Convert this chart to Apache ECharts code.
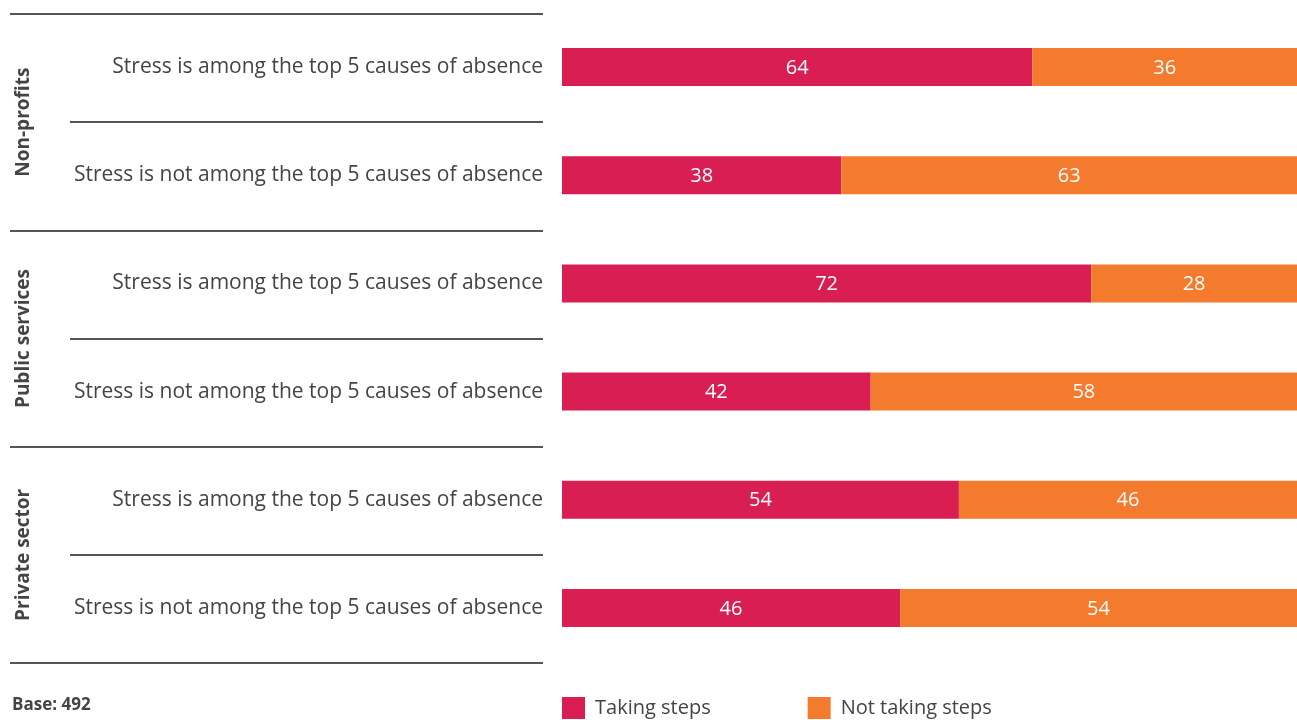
<!DOCTYPE html>
<html>
<head>
<meta charset="utf-8">
<script src="https://cdn.jsdelivr.net/npm/echarts@6/dist/echarts.min.js"></script>
<style>
  html, body { margin: 0; padding: 0; background: #fff; }
  #chart { width: 1297px; height: 720px; }
</style>
</head>
<body>
<div id="chart"></div>
<script>
// Sector groups (each holds two statement rows)
const groups = ['Non-profits', 'Public services', 'Private sector'];
// Statement rows, top to bottom
const statements = [
  'Stress is among the top 5 causes of absence',
  'Stress is not among the top 5 causes of absence',
  'Stress is among the top 5 causes of absence',
  'Stress is not among the top 5 causes of absence',
  'Stress is among the top 5 causes of absence',
  'Stress is not among the top 5 causes of absence'
];
// Row keys so identical statement texts stay separate categories
const rowKeys = statements.map((s, i) => i + '|' + s);
// Percentages per row
const takingSteps = [64, 38, 72, 42, 54, 46];
const notTakingSteps = [36, 63, 28, 58, 46, 54];
const seriesNames = ['Taking steps', 'Not taking steps'];
const baseNote = 'Base: 492';

const PINK = '#D91E53';
const ORANGE = '#F47A2D';
const TEXT = '#444444';
const RULE = '#555555';
const FONT = '"Open Sans", "Noto Sans", sans-serif';

const chart = echarts.init(document.getElementById('chart'), null, { renderer: 'canvas' });

const TOP = 13, HEIGHT = 649;

const valueLabel = {
  show: true,
  position: 'inside',
  color: '#ffffff',
  fontFamily: FONT,
  fontSize: 20,
  offset: [0, 1]
};

chart.setOption({
  backgroundColor: '#ffffff',
  animation: false,
  title: {
    text: baseNote,
    left: 12,
    top: 694,
    padding: 0,
    textStyle: { fontFamily: FONT, fontSize: 17, fontWeight: 'bold', color: TEXT, lineHeight: 22 }
  },
  legend: {
    data: seriesNames,
    left: 562,
    top: 697,
    padding: 0,
    itemWidth: 23,
    itemHeight: 22,
    itemGap: 97,
    icon: 'rect',
    textStyle: { fontFamily: FONT, fontSize: 20, color: TEXT, padding: [3, 0, 0, 5] }
  },
  grid: [
    // bars
    { left: 562, width: 735, top: TOP, height: HEIGHT },
    // group rules and sector names
    { left: 10, width: 533, top: TOP + 1, height: HEIGHT },
    // rules between statement rows
    { left: 70, width: 473, top: TOP + 1, height: HEIGHT }
  ],
  xAxis: [
    { type: 'value', gridIndex: 0, min: 0, max: 100, show: false },
    { type: 'value', gridIndex: 1, show: false },
    { type: 'value', gridIndex: 2, show: false }
  ],
  yAxis: [
    {
      type: 'category',
      gridIndex: 0,
      data: rowKeys,
      inverse: true,
      axisLine: { show: false },
      axisTick: { show: false },
      splitLine: { show: false },
      axisLabel: {
        margin: 19,
        fontFamily: FONT,
        fontSize: 21,
        color: TEXT,
        formatter: v => v.split('|')[1]
      }
    },
    {
      type: 'category',
      gridIndex: 1,
      data: groups,
      inverse: true,
      axisLine: { show: false },
      axisTick: { show: false },
      splitLine: { show: true, lineStyle: { color: RULE, width: 2 } },
      axisLabel: {
        rotate: 90,
        margin: -23,
        fontFamily: FONT,
        fontSize: 19,
        fontWeight: 'bold',
        color: TEXT
      }
    },
    {
      type: 'category',
      gridIndex: 2,
      data: rowKeys,
      inverse: true,
      axisLine: { show: false },
      axisTick: { show: false },
      axisLabel: { show: false },
      splitLine: { show: true, lineStyle: { color: RULE, width: 2 } }
    }
  ],
  series: [
    {
      name: seriesNames[0],
      type: 'bar',
      stack: 'total',
      xAxisIndex: 0,
      yAxisIndex: 0,
      barWidth: 38,
      itemStyle: { color: PINK },
      label: valueLabel,
      data: takingSteps
    },
    {
      name: seriesNames[1],
      type: 'bar',
      stack: 'total',
      xAxisIndex: 0,
      yAxisIndex: 0,
      barWidth: 38,
      itemStyle: { color: ORANGE },
      label: valueLabel,
      data: notTakingSteps
    }
  ]
});
</script>
</body>
</html>
